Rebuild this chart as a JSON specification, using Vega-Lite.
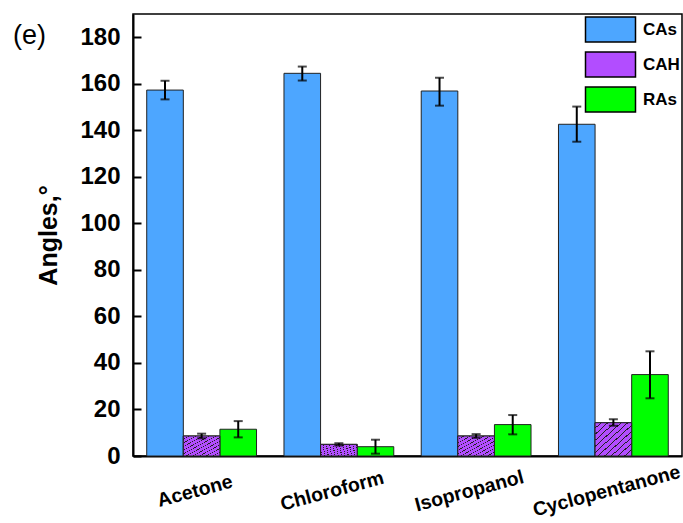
{
  "$schema": "https://vega.github.io/schema/vega-lite/v6.json",
  "autosize": {"type": "none"},
  "width": 549,
  "height": 442,
  "padding": {"left": 133, "top": 14, "right": 1, "bottom": 67},
  "background": "white",
  "title": {"text": "(e)", "anchor": "start", "frame": "bounds", "orient": "top", "font": "Liberation Sans", "fontSize": 27, "fontWeight": "normal", "color": "black", "baseline": "alphabetic", "offset": -24, "dx": -24, "dy": 33},
  "config": {
    "view": {"stroke": "black", "strokeWidth": 1.5},
    "font": "Liberation Sans"
  },
  "data": {"values": [
    {"solvent": "Acetone", "type": "CAs", "value": 157.3, "lo": 153.3, "hi": 161.3},
    {"solvent": "Acetone", "type": "CAH", "value": 8.6, "lo": 7.6, "hi": 9.6},
    {"solvent": "Acetone", "type": "RAs", "value": 11.5, "lo": 8.0, "hi": 15.0},
    {"solvent": "Chloroform", "type": "CAs", "value": 164.5, "lo": 161.4, "hi": 167.4},
    {"solvent": "Chloroform", "type": "CAH", "value": 5.0, "lo": 4.5, "hi": 5.5},
    {"solvent": "Chloroform", "type": "RAs", "value": 4.0, "lo": 1.0, "hi": 7.0},
    {"solvent": "Isopropanol", "type": "CAs", "value": 156.9, "lo": 150.6, "hi": 162.6},
    {"solvent": "Isopropanol", "type": "CAH", "value": 8.6, "lo": 7.8, "hi": 9.4},
    {"solvent": "Isopropanol", "type": "RAs", "value": 13.5, "lo": 9.3, "hi": 17.6},
    {"solvent": "Cyclopentanone", "type": "CAs", "value": 142.6, "lo": 135.1, "hi": 150.2},
    {"solvent": "Cyclopentanone", "type": "CAH", "value": 14.3, "lo": 13.0, "hi": 15.8},
    {"solvent": "Cyclopentanone", "type": "RAs", "value": 35.0, "lo": 24.8, "hi": 45.0}
  ]},
  "encoding": {
    "x": {"field": "solvent", "type": "nominal", "sort": ["Acetone", "Chloroform", "Isopropanol", "Cyclopentanone"],
      "scale": {"paddingInner": 0.2, "paddingOuter": 0.1},
      "axis": {"title": null, "labelAngle": -15, "labelAlign": "center", "labelBaseline": "top", "labelFontSize": 19.5, "labelFontWeight": "bold", "labelColor": "black", "labelPadding": 26, "labelOffset": -9, "ticks": false, "domainColor": "black", "domainWidth": 2}},
    "xOffset": {"field": "type", "type": "nominal", "sort": ["CAs", "CAH", "RAs"], "scale": {"domain": ["CAs", "CAH", "RAs"], "paddingInner": 0, "paddingOuter": 0}}
  },
  "layer": [
    {
      "mark": {"type": "bar", "stroke": "#222222", "strokeWidth": 1},
      "encoding": {
        "y": {"field": "value", "type": "quantitative", "scale": {"domain": [0, 190], "nice": false},
          "axis": {"title": "Angles,°", "titleFontSize": 25, "titleFontWeight": "bold", "titleColor": "black", "titlePadding": 18,
            "values": [0, 20, 40, 60, 80, 100, 120, 140, 160, 180], "grid": false,
            "labelFontSize": 24, "labelFontWeight": "bold", "labelColor": "black", "labelPadding": 21,
            "tickSize": -8, "tickWidth": 2, "tickColor": "black", "domainColor": "black", "domainWidth": 2}},
        "fill": {"field": "type", "type": "nominal", "sort": ["CAs", "CAH", "RAs"],
          "scale": {"domain": ["CAs", "CAH", "RAs"], "range": ["#4da6ff", "#b24dff", "#00ff00"]},
          "legend": {"title": null, "orient": "top-right", "offset": 2, "padding": 0,
            "symbolType": "M-2,-1H2V1H-2Z", "symbolSize": 625, "symbolStrokeColor": "black", "symbolStrokeWidth": 1.5, "symbolOpacity": 1,
            "labelFontSize": 17, "labelFontWeight": "bold", "labelColor": "black", "labelOffset": 19, "rowPadding": 4}}
      }
    },
    {
      "transform": [{"filter": "datum.type === 'CAH'"}],
      "mark": {"type": "bar", "stroke": "#222222", "strokeWidth": 1,
        "fill": {"gradient": "linear", "x1": 0, "y1": 0, "x2": 1, "y2": 1, "stops": [
          {"offset": 0, "color": "#b24dff"},
          {"offset": 0.075, "color": "#b24dff"}, {"offset": 0.075, "color": "#222222"}, {"offset": 0.0909, "color": "#222222"}, {"offset": 0.0909, "color": "#b24dff"},
          {"offset": 0.1659, "color": "#b24dff"}, {"offset": 0.1659, "color": "#222222"}, {"offset": 0.1818, "color": "#222222"}, {"offset": 0.1818, "color": "#b24dff"},
          {"offset": 0.2568, "color": "#b24dff"}, {"offset": 0.2568, "color": "#222222"}, {"offset": 0.2727, "color": "#222222"}, {"offset": 0.2727, "color": "#b24dff"},
          {"offset": 0.3477, "color": "#b24dff"}, {"offset": 0.3477, "color": "#222222"}, {"offset": 0.3636, "color": "#222222"}, {"offset": 0.3636, "color": "#b24dff"},
          {"offset": 0.4386, "color": "#b24dff"}, {"offset": 0.4386, "color": "#222222"}, {"offset": 0.4545, "color": "#222222"}, {"offset": 0.4545, "color": "#b24dff"},
          {"offset": 0.5295, "color": "#b24dff"}, {"offset": 0.5295, "color": "#222222"}, {"offset": 0.5455, "color": "#222222"}, {"offset": 0.5455, "color": "#b24dff"},
          {"offset": 0.6205, "color": "#b24dff"}, {"offset": 0.6205, "color": "#222222"}, {"offset": 0.6364, "color": "#222222"}, {"offset": 0.6364, "color": "#b24dff"},
          {"offset": 0.7114, "color": "#b24dff"}, {"offset": 0.7114, "color": "#222222"}, {"offset": 0.7273, "color": "#222222"}, {"offset": 0.7273, "color": "#b24dff"},
          {"offset": 0.8023, "color": "#b24dff"}, {"offset": 0.8023, "color": "#222222"}, {"offset": 0.8182, "color": "#222222"}, {"offset": 0.8182, "color": "#b24dff"},
          {"offset": 0.8932, "color": "#b24dff"}, {"offset": 0.8932, "color": "#222222"}, {"offset": 0.9091, "color": "#222222"}, {"offset": 0.9091, "color": "#b24dff"},
          {"offset": 1, "color": "#b24dff"}
        ]}},
      "encoding": {"y": {"field": "value", "type": "quantitative"}}
    },
    {
      "mark": {"type": "rule", "color": "black", "strokeWidth": 2},
      "encoding": {"y": {"field": "lo", "type": "quantitative"}, "y2": {"field": "hi"}}
    },
    {
      "mark": {"type": "tick", "color": "black", "thickness": 2, "size": 9, "orient": "horizontal"},
      "encoding": {"y": {"field": "lo", "type": "quantitative"}}
    },
    {
      "mark": {"type": "tick", "color": "black", "thickness": 2, "size": 9, "orient": "horizontal"},
      "encoding": {"y": {"field": "hi", "type": "quantitative"}}
    }
  ]
}
